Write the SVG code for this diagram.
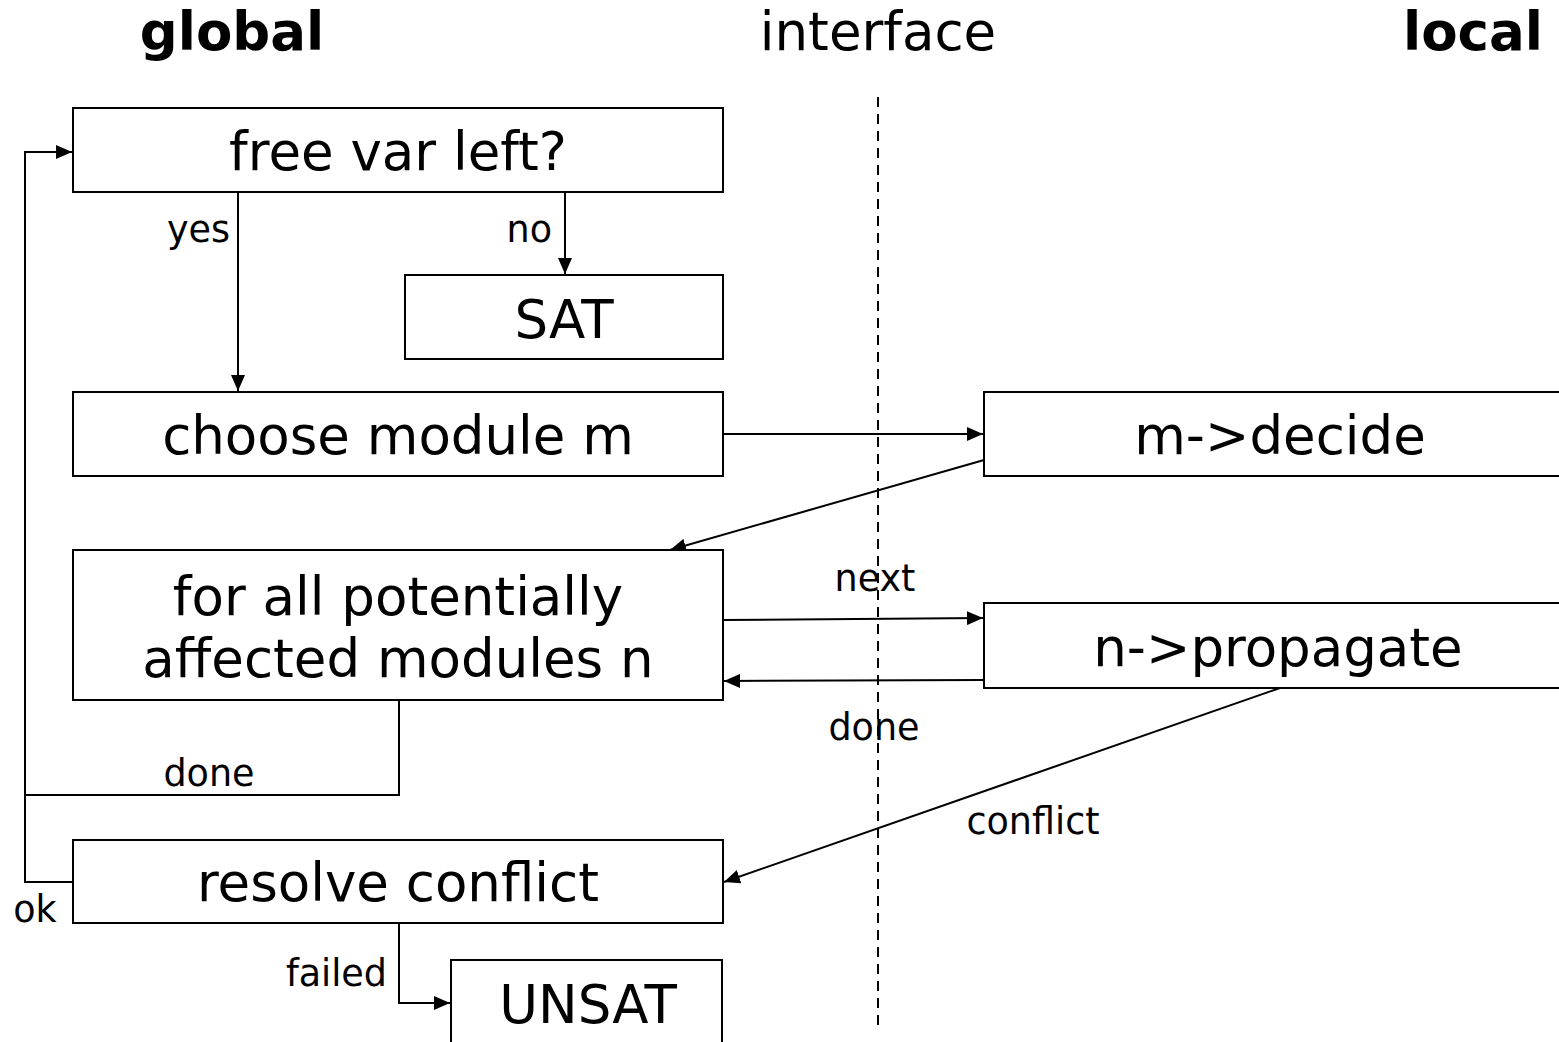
<svg xmlns="http://www.w3.org/2000/svg" width="1559" height="1042" viewBox="0 0 1559 1042">
  <style>
    text { font-family: "DejaVu Sans", "Liberation Sans", sans-serif; fill: #000; }
    .title { font-size: 53px; text-anchor: middle; }
    .bold { font-weight: bold; }
    .main { font-size: 53px; text-anchor: middle; }
    .lbl { font-size: 36.5px; }
    .box { fill: #fff; stroke: #000; stroke-width: 2; }
    .edge { fill: none; stroke: #000; stroke-width: 2; }
    .divider { fill: none; stroke: #000; stroke-width: 2; stroke-dasharray: 10 7; }
  </style>
  <defs>
    <marker id="arrow" viewBox="0 0 16 14" refX="16" refY="7" markerWidth="16" markerHeight="14" markerUnits="userSpaceOnUse" orient="auto">
      <path d="M0,0 L16,7 L0,14 Z" fill="#000"/>
    </marker>
  </defs>

  <rect width="1559" height="1042" fill="#fff"/>

  <!-- column headings -->
  <g id="headings">
    <text class="title bold" x="232" y="50">global</text>
    <text class="title" x="878" y="50">interface</text>
    <text class="title bold" x="1473" y="50">local</text>
  </g>

  <!-- interface boundary -->
  <line class="divider" x1="878" y1="97" x2="878" y2="1032"/>

  <!-- connectors -->
  <g id="connectors">
    <polyline class="edge" points="73,882 25,882 25,152 72,152" marker-end="url(#arrow)"/>
    <polyline class="edge" points="399,700 399,795 25,795"/>
    <line class="edge" x1="238" y1="192" x2="238" y2="391" marker-end="url(#arrow)"/>
    <line class="edge" x1="565" y1="192" x2="565" y2="274" marker-end="url(#arrow)"/>
    <line class="edge" x1="723" y1="434" x2="983" y2="434" marker-end="url(#arrow)"/>
    <line class="edge" x1="984" y1="460" x2="670" y2="550" marker-end="url(#arrow)"/>
    <line class="edge" x1="723" y1="620" x2="983" y2="618" marker-end="url(#arrow)"/>
    <line class="edge" x1="984" y1="680" x2="724" y2="681" marker-end="url(#arrow)"/>
    <line class="edge" x1="1280" y1="688" x2="724" y2="882" marker-end="url(#arrow)"/>
    <polyline class="edge" points="399,923 399,1003 450,1003" marker-end="url(#arrow)"/>

    <text class="lbl" x="230" y="242" text-anchor="end">yes</text>
    <text class="lbl" x="552" y="242" text-anchor="end">no</text>
    <text class="lbl" x="875" y="591" text-anchor="middle">next</text>
    <text class="lbl" x="874" y="740" text-anchor="middle">done</text>
    <text class="lbl" x="209" y="786" text-anchor="middle">done</text>
    <text class="lbl" x="1033" y="834" text-anchor="middle">conflict</text>
    <text class="lbl" x="35" y="922" text-anchor="middle">ok</text>
    <text class="lbl" x="387" y="986" text-anchor="end">failed</text>
  </g>

  <!-- nodes -->
  <g id="free-var">
    <rect class="box" x="73" y="108" width="650" height="84"/>
    <text class="main" x="398" y="170">free var left?</text>
  </g>
  <g id="sat">
    <rect class="box" x="405" y="275" width="318" height="84"/>
    <text class="main" x="564" y="338">SAT</text>
  </g>
  <g id="choose-module">
    <rect class="box" x="73" y="392" width="650" height="84"/>
    <text class="main" x="398" y="454">choose module m</text>
  </g>
  <g id="decide">
    <rect class="box" x="984" y="392" width="590" height="84"/>
    <text class="main" x="1280" y="454">m-&gt;decide</text>
  </g>
  <g id="affected-modules">
    <rect class="box" x="73" y="550" width="650" height="150"/>
    <text class="main" x="398" y="615">for all potentially</text>
    <text class="main" x="398" y="677">affected modules n</text>
  </g>
  <g id="propagate">
    <rect class="box" x="984" y="603" width="590" height="85"/>
    <text class="main" x="1278" y="666">n-&gt;propagate</text>
  </g>
  <g id="resolve-conflict">
    <rect class="box" x="73" y="840" width="650" height="83"/>
    <text class="main" x="398" y="901">resolve conflict</text>
  </g>
  <g id="unsat">
    <rect class="box" x="451" y="960" width="271" height="100"/>
    <text class="main" x="588" y="1023">UNSAT</text>
  </g>
</svg>
